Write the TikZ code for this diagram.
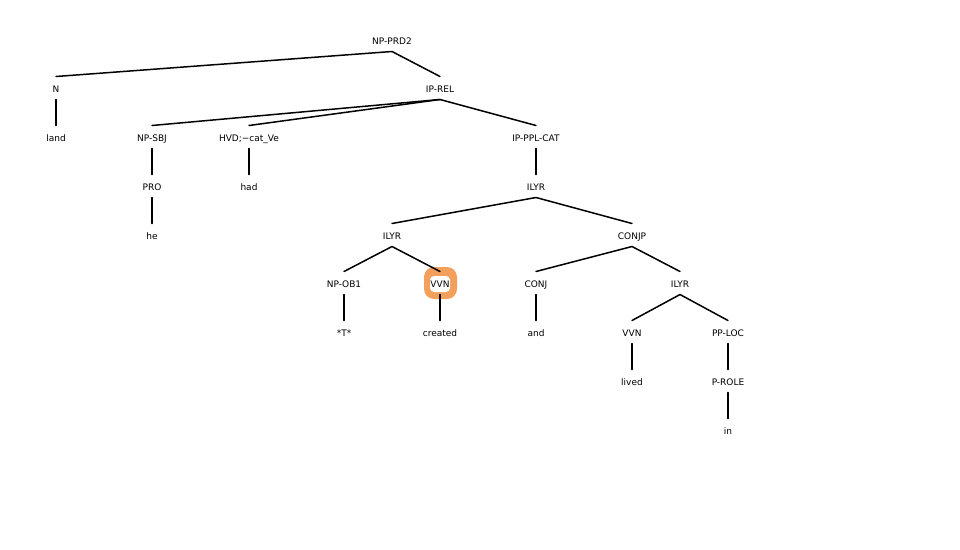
\documentclass[tikz,border=0pt]{standalone}
\usepackage{fontspec}
\setmainfont{DejaVu Sans}
\begin{document}
\begin{tikzpicture}[x=1pt,y=-1pt,
  tn/.style={inner sep=0pt,outer sep=0pt,minimum height=23pt,text height=8.4pt,text depth=0pt,font=\fontsize{9}{10}\selectfont},
  edge/.style={line width=1.5pt,line cap=round}]
\useasboundingbox (0,0) rectangle (960,549);
\definecolor{hl}{RGB}{242,160,92}
% highlight behind the VVN label
\fill[hl,rounded corners=10pt] (424,267) rectangle (457,299);
\fill[white,rounded corners=4pt] (430,276) rectangle (450,292);
% tree labels
\node[tn] (prd2) at (392,40) {NP-PRD2};
\node[tn] (n) at (56,88) {N};
\node[tn] (land) at (56,137) {land};
\node[tn] (iprel) at (440,88) {IP-REL};
\node[tn] (npsbj) at (152,137) {NP-SBJ};
\node[tn] (pro) at (152,186) {PRO};
\node[tn] (he) at (152,235) {he};
\node[tn] (hvd) at (249,137) {HVD;−cat\_Ve};
\node[tn] (had) at (249,186) {had};
\node[tn] (ipppl) at (536,137) {IP-PPL-CAT};
\node[tn] (ilyra) at (536,186) {ILYR};
\node[tn] (ilyrb) at (392,235) {ILYR};
\node[tn] (conjp) at (632,235) {CONJP};
\node[tn] (npob) at (344,283) {NP-OB1};
\node[tn] (tt) at (344,332) {*T*};
\node[tn] (vvna) at (440,283) {VVN};
\node[tn] (created) at (440,332) {created};
\node[tn] (conj) at (536,283) {CONJ};
\node[tn] (and) at (536,332) {and};
\node[tn] (ilyrc) at (680,283) {ILYR};
\node[tn] (vvnb) at (632,332) {VVN};
\node[tn] (lived) at (632,381) {lived};
\node[tn] (pploc) at (728,332) {PP-LOC};
\node[tn] (prole) at (728,381) {P-ROLE};
\node[tn] (in) at (728,430) {in};
% branches
\foreach \p/\c in {prd2/n, prd2/iprel, n/land, iprel/npsbj, iprel/hvd, iprel/ipppl,
  npsbj/pro, pro/he, hvd/had, ipppl/ilyra, ilyra/ilyrb, ilyra/conjp,
  ilyrb/npob, ilyrb/vvna, npob/tt, vvna/created, conjp/conj, conjp/ilyrc,
  conj/and, ilyrc/vvnb, ilyrc/pploc, vvnb/lived, pploc/prole, prole/in}
  \draw[edge] (\p.south) -- (\c.north);
\end{tikzpicture}
\end{document}
